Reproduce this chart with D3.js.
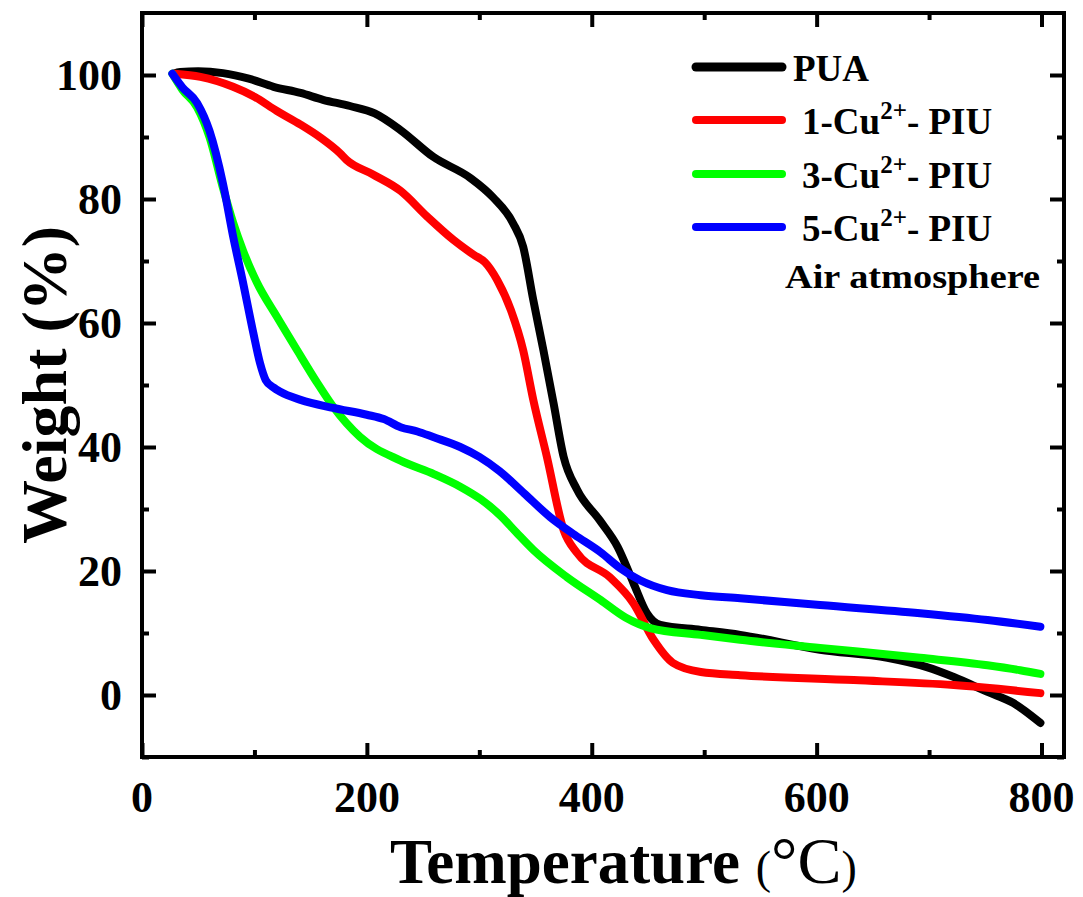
<!DOCTYPE html>
<html lang="en">
<head>
  <meta charset="UTF-8">
  <title>TGA curves</title>
  <script src="https://d3js.org/d3.v7.min.js"></script>
</head>
<body style="margin: 0; overflow: hidden; background: #fff;">

<script>
  //Data: [temperature (°C), weight (%)]
  const puaData = [[28,100.2],[34,100.5],[50,100.6],[72,100.3],[95,99.4],[117,98.1],[141,97.1],[161,96.0],[185,95.0],[207,93.8],[230,91.1],[259,86.8],[292,83.4],[312,80.3],[330,76.1],[339,72.3],[348,63.7],[357,55.6],[366,47.1],[375,38.4],[387,33.1],[407,28.2],[423,23.9],[437,18.1],[449,13.2],[461,11.3],[497,10.5],[532,9.7],[603,7.3],[663,6.0],[698,4.5],[722,2.9],[752,0.5],[775,-1.3],[799,-4.5]];
  const cu1Data = [[29,100.2],[52,99.7],[81,98.1],[100,96.5],[120,94.2],[141,92.0],[158,90],[176,87.4],[182,86.3],[205,84],[230,81.3],[254,77.1],[277,73.4],[295,71],[305,69.8],[316,66.9],[328,62.1],[339,55.6],[348,47.6],[360,38.5],[375,26.6],[387,22.9],[416,19.0],[437,14.8],[455,8.9],[472,5.2],[497,3.7],[532,3.2],[633,2.4],[722,1.6],[799,0.3]];
  const cu3Data = [[27,100.2],[36,97.6],[49,94.8],[60,90],[72,81.8],[81,76.2],[90,71.6],[102,66.6],[120,61],[138,55.6],[156,50.3],[170,46.5],[194,41.6],[230,37.8],[260,35.6],[283,33.6],[301,31.6],[319,28.9],[333,26.2],[348,23.4],[378,19.0],[408,15.3],[430,12.5],[452,10.8],[497,9.7],[532,8.9],[603,7.6],[692,6.0],[752,4.8],[781,4.0],[799,3.4]];
  const cu5Data = [[27,100.2],[36,98],[49,95.5],[60,91],[72,82.5],[81,74],[90,66.4],[99,58.4],[105,53.5],[110,50.8],[117,49.6],[123,48.9],[141,47.6],[170,46.3],[200,45.2],[215,44.5],[230,43.2],[245,42.5],[259,41.6],[283,40],[300,38.4],[318,36.1],[340,32.5],[363,28.7],[385,25.8],[408,23.0],[425,20.5],[443,18.5],[467,16.9],[497,16.1],[532,15.6],[603,14.5],[692,13.2],[752,12.1],[799,11.0]];

  const seriesNames = ['PUA', '1-Cu', '3-Cu', '5-Cu'];
  const xTicks = [0, 200, 400, 600, 800];
  const yTicks = [0, 20, 40, 60, 80, 100];

  const series = [
    { name: seriesNames[0], data: puaData, color: '#000000' },
    { name: seriesNames[1], data: cu1Data, color: '#ff0000' },
    { name: seriesNames[2], data: cu3Data, color: '#00ff00' },
    { name: seriesNames[3], data: cu5Data, color: '#0000ff' }
  ];

  const W = 1083, H = 897;
  const plotLeft = 142, plotRight = 1064, plotTop = 13, plotBottom = 757;
  const font = '"Liberation Serif", "Times New Roman", serif';

  const svg = d3.select('body').append('svg')
    .attr('width', W)
    .attr('height', H)
    .style('font-family', font);

  const x = d3.scaleLinear().domain([0, 820]).range([plotLeft, plotRight]);
  const y = d3.scaleLinear().domain([-10, 110]).range([plotBottom, plotTop]);

  //Curves
  const line = d3.line()
    .x(d => x(d[0]))
    .y(d => y(d[1]))
    .curve(d3.curveMonotoneX);

  svg.append('g').selectAll('path')
    .data(series)
    .join('path')
    .attr('d', d => line(d.data))
    .attr('fill', 'none')
    .attr('stroke', d => d.color)
    .attr('stroke-width', 8)
    .attr('stroke-linecap', 'round')
    .attr('stroke-linejoin', 'round');

  //Axes with inward ticks on all four sides
  const xMinor = d3.range(100, 800, 200);
  const yMinor = d3.range(-10, 110, 20);

  const styleAxis = function(g) {
    g.select('.domain').remove();
    g.selectAll('line').attr('stroke', '#000').attr('stroke-width', 4);
    g.selectAll('text').remove();
  };

  svg.append('g').attr('transform', `translate(0,${plotBottom})`)
    .call(d3.axisBottom(x).tickValues(xTicks).tickSize(-14)).call(styleAxis);
  svg.append('g').attr('transform', `translate(0,${plotBottom})`)
    .call(d3.axisBottom(x).tickValues(xMinor).tickSize(-7)).call(styleAxis);
  svg.append('g').attr('transform', `translate(0,${plotTop})`)
    .call(d3.axisTop(x).tickValues(xTicks).tickSize(-14)).call(styleAxis);
  svg.append('g').attr('transform', `translate(0,${plotTop})`)
    .call(d3.axisTop(x).tickValues(xMinor).tickSize(-7)).call(styleAxis);
  svg.append('g').attr('transform', `translate(${plotLeft},0)`)
    .call(d3.axisLeft(y).tickValues(yTicks).tickSize(-14)).call(styleAxis);
  svg.append('g').attr('transform', `translate(${plotLeft},0)`)
    .call(d3.axisLeft(y).tickValues(yMinor).tickSize(-7)).call(styleAxis);
  svg.append('g').attr('transform', `translate(${plotRight},0)`)
    .call(d3.axisRight(y).tickValues(yTicks).tickSize(-14)).call(styleAxis);
  svg.append('g').attr('transform', `translate(${plotRight},0)`)
    .call(d3.axisRight(y).tickValues(yMinor).tickSize(-7)).call(styleAxis);

  //Frame
  svg.append('rect')
    .attr('x', plotLeft).attr('y', plotTop)
    .attr('width', plotRight - plotLeft).attr('height', plotBottom - plotTop)
    .attr('fill', 'none').attr('stroke', '#000').attr('stroke-width', 4);

  //Tick labels
  svg.append('g').selectAll('text')
    .data(xTicks)
    .join('text')
    .attr('x', d => x(d))
    .attr('y', plotBottom + 55)
    .attr('text-anchor', 'middle')
    .attr('font-size', 44)
    .attr('font-weight', 'bold')
    .text(d => d);

  svg.append('g').selectAll('text')
    .data(yTicks)
    .join('text')
    .attr('x', plotLeft - 20)
    .attr('y', d => y(d) + 15)
    .attr('text-anchor', 'end')
    .attr('font-size', 44)
    .attr('font-weight', 'bold')
    .text(d => d);

  //Axis titles
  const xTitle = svg.append('text')
    .attr('x', 390)
    .attr('y', 883)
    .attr('font-size', 63)
    .attr('font-weight', 'bold');
  xTitle.append('tspan').text('Temperature ');
  xTitle.append('tspan').attr('font-size', 46).attr('font-weight', 'normal').text('(');
  xTitle.append('tspan').attr('font-size', 66).attr('font-weight', 'normal').text('°C');
  xTitle.append('tspan').attr('font-size', 46).attr('font-weight', 'normal').text(')');

  svg.append('text')
    .attr('transform', `translate(66,385) rotate(-90)`)
    .attr('text-anchor', 'middle')
    .attr('font-size', 64)
    .attr('font-weight', 'bold')
    .text('Weight (%)');

  //Legend
  const legendY = [67, 120, 174, 227];
  const legend = svg.append('g').selectAll('g')
    .data(series)
    .join('g');

  legend.append('line')
    .attr('x1', 696).attr('x2', 782)
    .attr('y1', (d, i) => legendY[i]).attr('y2', (d, i) => legendY[i])
    .attr('stroke', d => d.color)
    .attr('stroke-width', (d, i) => i === 0 ? 9 : 8)
    .attr('stroke-linecap', 'round');

  legend.each(function(d, i) {
    const t = d3.select(this).append('text')
      .attr('y', legendY[i] + 14)
      .attr('font-size', 37)
      .attr('font-weight', 'bold');
    if (i === 0) {
      t.attr('x', 793).text(d.name);
    } else {
      t.attr('x', 802);
      t.append('tspan').text(d.name);
      t.append('tspan').attr('font-size', 25).attr('dy', -15).text('2+');
      t.append('tspan').attr('dy', 15).text('- PIU');
    }
  });

  svg.append('text')
    .attr('x', 785)
    .attr('y', 288)
    .attr('font-size', 34)
    .attr('font-weight', 'bold')
    .attr('textLength', 255)
    .attr('lengthAdjust', 'spacingAndGlyphs')
    .text('Air atmosphere');
</script>

</body>
</html>
